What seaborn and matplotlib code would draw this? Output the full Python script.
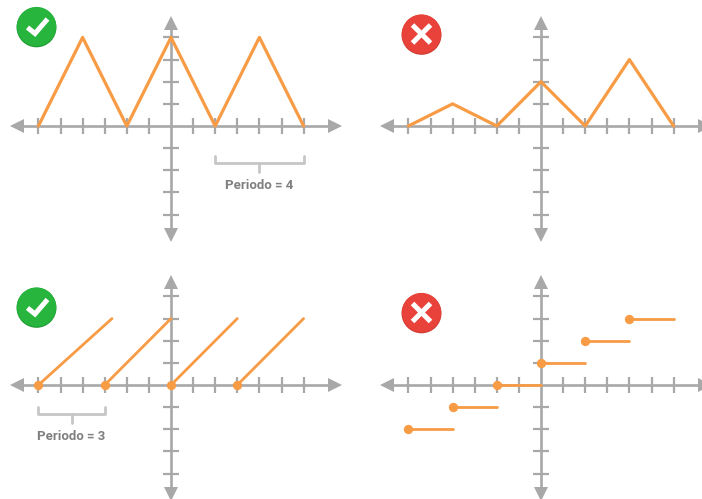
import matplotlib
matplotlib.use('Agg')
import matplotlib.pyplot as plt
from matplotlib.patches import Circle
from matplotlib import font_manager
import seaborn as sns

# Chart values (grid units)
tri_x = [-6, -4, -2, 0, 2, 4, 6]
tri_y = [0, 4, 0, 4, 0, 4, 0]
uneven_x = [-6, -4, -2, 0, 2, 4, 6]
uneven_y = [0, 1, 0, 2, 0, 3, 0]
saw_start_x = [-6, -3, 0, 3]
saw_end_x = [-2.67, 0, 3, 6]
saw_start_y = [0, 0, 0, 0]
saw_end_y = [3, 3, 3, 3]
step_start_x = [-6, -4, -2, 0, 2, 4]
step_end_x = [-4, -2, 0, 2, 4, 6]
step_y = [-2, -1, 0, 1, 2, 3]
x_ticks = [-6, -5, -4, -3, -2, -1, 1, 2, 3, 4, 5, 6]
y_ticks = [-4, -3, -2, -1, 1, 2, 3, 4]
label_top = 'Periodo = 4'
label_bottom = 'Periodo = 3'

W, H = 702, 499
UNIT_X, UNIT_Y = 22.1, 22.15
GRAY = '#a8a8a8'
ORANGE = '#f89b45'
BRACKET = '#c6c6c6'
TEXT = '#7f7f7f'
XLIM = (-7.4, 7.85)
YLIM = (-5.3, 5.0)

sns.set_style('white')
plt.rcParams['font.family'] = ['Roboto', 'DejaVu Sans']

# narrow face is closest to the label lettering, if it is there
names = {f.name for f in font_manager.fontManager.ttflist}
label_font = 'Liberation Sans Narrow' if 'Liberation Sans Narrow' in names else 'Roboto'
label_size = 11 if label_font != 'Roboto' else 9.5

fig = plt.figure(figsize=(W / 100, H / 100), dpi=100, facecolor='white')


def make_axes(ox, oy):
    left = ox + XLIM[0] * UNIT_X
    width = (XLIM[1] - XLIM[0]) * UNIT_X
    top = oy - YLIM[1] * UNIT_Y
    height = (YLIM[1] - YLIM[0]) * UNIT_Y
    ax = fig.add_axes([left / W, 1 - (top + height) / H, width / W, height / H])
    ax.patch.set_alpha(0)
    ax.set_xlim(*XLIM)
    ax.set_ylim(*YLIM)
    for side in ['top', 'right']:
        ax.spines[side].set_visible(False)
    for side in ['left', 'bottom']:
        ax.spines[side].set_position('zero')
        ax.spines[side].set_color(GRAY)
        ax.spines[side].set_linewidth(1.9)
    # keep the spines inside the arrow heads
    ax.spines['bottom'].set_bounds(-7.0, 7.4)
    ax.spines['left'].set_bounds(-4.9, 4.6)
    ax.set_xticks(x_ticks)
    ax.set_yticks(y_ticks)
    ax.set_xticklabels([])
    ax.set_yticklabels([])
    ax.tick_params(direction='inout', length=11, width=1.6, color=GRAY,
                   bottom=True, left=True)
    # arrow heads
    ms = 10
    ax.plot(-6.98, 0, '<', color=GRAY, ms=ms, mew=0, clip_on=False)
    ax.plot(7.42, 0, '>', color=GRAY, ms=ms, mew=0, clip_on=False)
    ax.plot(0, 4.66, '^', color=GRAY, ms=ms, mew=0, clip_on=False)
    ax.plot(0, -4.93, 'v', color=GRAY, ms=ms, mew=0, clip_on=False)
    return ax


def draw_segments(ax, xs0, ys0, xs1, ys1):
    for x0, y0, x1, y1 in zip(xs0, ys0, xs1, ys1):
        sns.lineplot(x=[x0, x1], y=[y0, y1], color=ORANGE, lw=2.0, ax=ax,
                     errorbar=None, zorder=4)
    sns.scatterplot(x=xs0, y=ys0, color=ORANGE, s=45, linewidth=0, ax=ax, zorder=5)


def draw_bracket(ax, x0, x1, y, label):
    ax.plot([x0, x0, x1, x1], [y + 0.33, y, y, y + 0.33], color=BRACKET, lw=2.0,
            solid_joinstyle='round')
    mid = (x0 + x1) / 2
    ax.plot([mid, mid], [y, y - 0.4], color=BRACKET, lw=2.0)
    ax.text(mid, y - 1.0, label, ha='center', va='center', color=TEXT,
            fontsize=label_size, fontweight='bold', family=label_font)


# top left
ax1 = make_axes(171, 126)
sns.lineplot(x=tri_x, y=tri_y, color=ORANGE, lw=2.3, sort=False, errorbar=None,
             ax=ax1, zorder=4)
draw_bracket(ax1, 2, 6, -1.69, label_top)

# top right
ax2 = make_axes(541, 126)
sns.lineplot(x=uneven_x, y=uneven_y, color=ORANGE, lw=2.3, sort=False, errorbar=None,
             ax=ax2, zorder=4)

# bottom left
ax3 = make_axes(171, 385)
draw_segments(ax3, saw_start_x, saw_start_y, saw_end_x, saw_end_y)
draw_bracket(ax3, -6, -3, -1.31, label_bottom)

# bottom right
ax4 = make_axes(541, 385)
draw_segments(ax4, step_start_x, step_y, step_end_x, step_y)

# badges, in pixel space on top of everything
over = fig.add_axes([0, 0, 1, 1])
over.set_xlim(0, W)
over.set_ylim(H, 0)
over.axis('off')
over.patch.set_alpha(0)


def badge(cx, cy, color, dark):
    over.add_patch(Circle((cx, cy + 0.8), 20, color=dark, lw=0))
    over.add_patch(Circle((cx, cy), 19.6, color=color, lw=0))


def check(cx, cy):
    badge(cx, cy, '#27b53d', '#1f9a35')
    over.plot([cx - 9, cx - 1.5, cx + 11], [cy + 1, cy + 7, cy - 7.5], color='white',
              lw=3.6, solid_joinstyle='miter', solid_capstyle='butt')


def cross(cx, cy):
    badge(cx, cy, '#e8423a', '#cf3a33')
    d = 9
    over.plot([cx - d, cx + d], [cy - d, cy + d], color='white', lw=3.6, solid_capstyle='butt')
    over.plot([cx - d, cx + d], [cy + d, cy - d], color='white', lw=3.6, solid_capstyle='butt')


check(36.5, 26.5)
cross(421.5, 34)
check(36.5, 307)
cross(421.5, 312.5)

fig.savefig('out.png', dpi=100)
